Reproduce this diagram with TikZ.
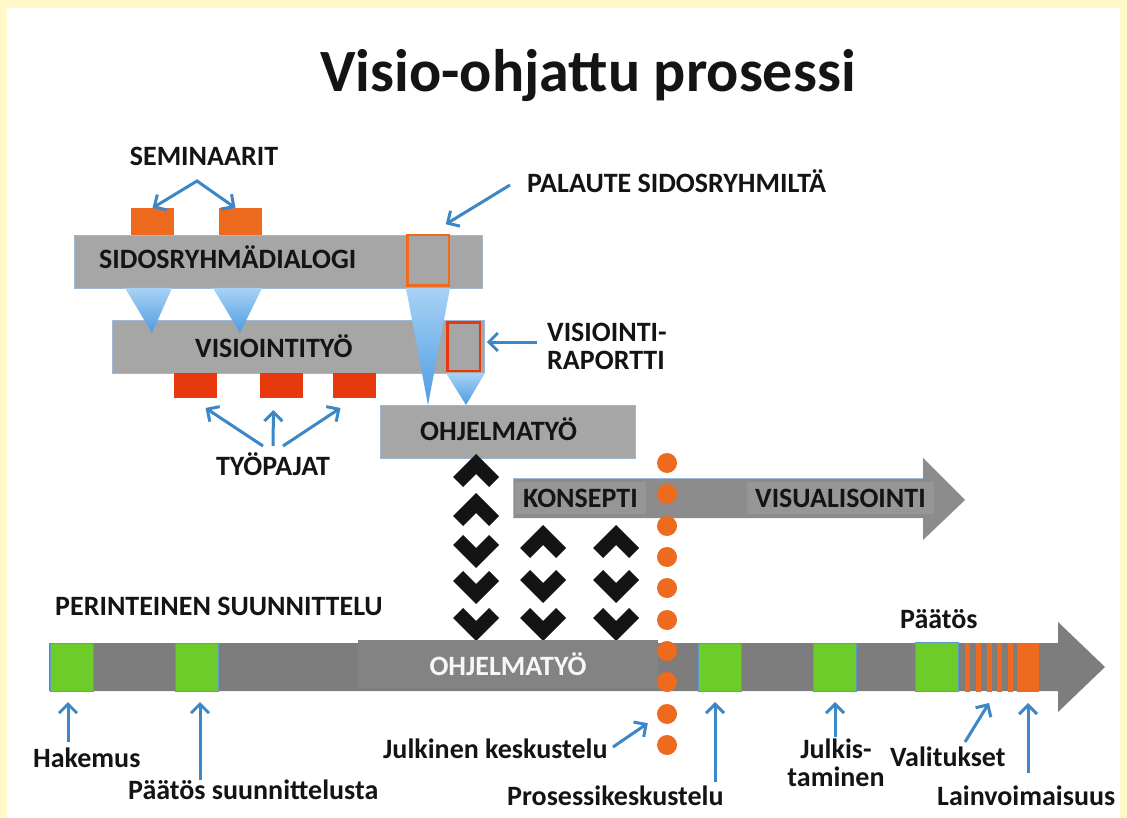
\documentclass[tikz,border=0pt]{standalone}
\usepackage{fontspec}
\setmainfont{Carlito}
\usetikzlibrary{arrows.meta}
\definecolor{bgyel}{HTML}{FFF8C9}
\definecolor{ink}{HTML}{141414}
\definecolor{barg}{HTML}{A6A6A6}
\definecolor{barb}{HTML}{9DB9D6}
\definecolor{kgray}{HTML}{8C8C8C}
\definecolor{kpatch}{HTML}{969696}
\definecolor{tgray}{HTML}{7D7D7D}
\definecolor{tpatch}{HTML}{838383}
\definecolor{grn}{HTML}{6DCB2A}
\definecolor{grnb}{HTML}{5A9BC8}
\definecolor{orng}{HTML}{EE6A1F}
\definecolor{rd}{HTML}{E8380D}
\definecolor{arrblue}{HTML}{3D87C6}
\definecolor{trilight}{HTML}{A8D2F4}
\definecolor{tridark}{HTML}{4D9CE3}

\begin{document}
\begin{tikzpicture}[x=1pt, y=-1pt, >={Straight Barb[length=9pt,width=18pt]}, bar/.style={fill=barg, draw=barb, line width=0.8pt, inner sep=0pt, outer sep=0pt, anchor=north west}, sq/.style={inner sep=0pt, outer sep=0pt, anchor=north west}, lbl/.style={font=\fontsize{28}{28}\selectfont\bfseries, text=ink, inner sep=0pt}, arr/.style={->, line width=3pt, arrblue}, tri/.style={top color=trilight, bottom color=tridark}, dot/.style={circle, fill=orng, minimum size=20pt, inner sep=0pt}, chevup/.pic={\fill[ink] (0,0) -- (23,23) -- (13,33) -- (0,20) -- (-13,33) -- (-23,23) -- cycle;}, chevdown/.pic={\fill[ink] (0,33) -- (23,10) -- (13,0) -- (0,13) -- (-13,0) -- (-23,10) -- cycle;}]
\useasboundingbox (0,0) rectangle (1127,818);
\fill[bgyel] (0,0) rectangle (1127,818); \fill[white] (7,8) rectangle (1120,818);
\node[font=\fontsize{60}{60}\selectfont\bfseries, text=ink, anchor=base, inner sep=0pt] (title) at (588,92) {Visio-ohjattu prosessi};
\node[sq, fill=orng, minimum width=43pt, minimum height=27pt] (sem1) at (131,208) {}; \node[sq, fill=orng, minimum width=43pt, minimum height=27pt] (sem2) at (219,208) {};
\node[bar, minimum width=408pt, minimum height=53pt] (sid) at (74,235) {}; \node[sq, draw=orng, line width=2.5pt, minimum width=41.5pt, minimum height=50.5pt] (pal) at (407.25,235.25) {};
\node[bar, minimum width=372pt, minimum height=53pt] (vis) at (112,320) {}; \node[sq, draw=rd, line width=2.5pt, minimum width=32.5pt, minimum height=48.5pt] (rap) at (447.25,322.25) {};
\node[sq, fill=rd, minimum width=43pt, minimum height=25pt] (ws1) at (174,373) {}; \node[sq, fill=rd, minimum width=43pt, minimum height=25pt] (ws2) at (260,373) {}; \node[sq, fill=rd, minimum width=43pt, minimum height=25pt] (ws3) at (333,373) {};
\node[bar, minimum width=255pt, minimum height=53pt] (ohj) at (380,405) {};
\shade[tri] (125,288) -- (172,288) -- (152,333) -- cycle; \shade[tri] (213,288) -- (262,288) -- (240,333) -- cycle; \shade[tri] (406,288) -- (450,288) -- (428,405) -- cycle; \shade[tri] (446,373) -- (485,373) -- (466,405) -- cycle;
\node[lbl, anchor=base] (semtxt) at (204,166) {SEMINAARIT}; \node[lbl, anchor=base west] (sidtxt) at (99,269) {SIDOSRYHMÄDIALOGI}; \node[lbl, anchor=base west] (vistxt) at (195,357) {VISIOINTITYÖ}; \node[lbl, anchor=base west] (ohjtxt) at (420,440) {OHJELMATYÖ};
\node[lbl, anchor=base] (typtxt) at (273,475) {TYÖPAJAT}; \node[lbl, anchor=base west] (paltxt) at (527,193) {PALAUTE SIDOSRYHMILTÄ}; \node[lbl, anchor=west, align=left] (raptxt) at (547,346) {VISIOINTI-\\RAPORTTI};
\coordinate (semtop) at (197,181); \coordinate (typtop) at (273,446); \coordinate (paltail) at (510,185); \coordinate (raptail) at (537,342);
\draw[arr, <->] (sem1.north) -- (semtop) -- ([xshift=-5pt]sem2.north); \draw[arr] ([xshift=-10pt]typtop) -- ([xshift=10pt,yshift=-10pt]ws1.south); \draw[arr] (typtop) -- ([xshift=-8pt,yshift=-12pt]ws2.south); \draw[arr] ([xshift=10pt]typtop) -- ([xshift=-14pt,yshift=-10pt]ws3.south);
\draw[arr] (paltail) -- ([xshift=-3pt,yshift=11pt]pal.north east); \draw[arr, shorten >=7pt] (raptail) -- (raptail -| rap.east);
\fill[kgray] (513,478) -- (923,478) -- (923,458) -- (965,500) -- (923,540) -- (923,518) -- (513,518) -- cycle; \draw[barb, line width=0.8pt] (513,518) -- (513,478) -- (923,478);
\node[lbl, fill=kpatch, inner xsep=8pt, inner ysep=7pt, anchor=base west] (kon) at (515,507) {KONSEPTI}; \node[lbl, fill=kpatch, inner xsep=8pt, inner ysep=7pt, anchor=base west] (visu) at (747,507) {VISUALISOINTI};
\pic at (476,454) {chevup}; \pic at (476,493) {chevup}; \pic at (476,535) {chevdown}; \pic at (476,571) {chevdown}; \pic at (476,608) {chevdown};
\pic at (543,525) {chevup}; \pic at (543,570) {chevdown}; \pic at (543,608) {chevdown}; \pic at (616,525) {chevup}; \pic at (616,570) {chevdown}; \pic at (616,608) {chevdown};
\fill[tgray] (49,643) -- (1058,643) -- (1058,622) -- (1105,667) -- (1058,712) -- (1058,691) -- (49,691) -- cycle;
\node[lbl, text=white!94!gray, fill=tpatch, minimum width=300pt, minimum height=48pt, anchor=base] (ohjt2) at (508,675) {OHJELMATYÖ};
\node[sq, fill=grn, draw=grnb, line width=0.8pt, minimum width=43pt, minimum height=48pt] (g1) at (50,643) {}; \node[sq, fill=grn, draw=grnb, line width=0.8pt, minimum width=43pt, minimum height=48pt] (g2) at (175,643) {}; \node[sq, fill=grn, draw=grnb, line width=0.8pt, minimum width=43pt, minimum height=48pt] (g3) at (698,643) {};
\node[sq, fill=grn, draw=grnb, line width=0.8pt, minimum width=43pt, minimum height=48pt] (g4) at (813,643) {}; \node[sq, fill=grn, draw=grnb, line width=0.8pt, minimum width=43pt, minimum height=49pt] (g5) at (915,642) {};
\fill[orng] (965,643) rectangle (970,692); \fill[orng] (976,643) rectangle (981,692); \fill[orng] (987,643) rectangle (992,692); \fill[orng] (997,643) rectangle (1002,692); \fill[orng] (1008,643) rectangle (1013,692);
\node[sq, fill=orng, minimum width=22pt, minimum height=49pt] (lv) at (1017,643) {}; \coordinate (stripes) at (989,692);
\node[dot] (d1) at (667,463) {}; \node[dot] (d2) at (667,494) {}; \node[dot] (d3) at (667,526) {}; \node[dot] (d4) at (667,557) {}; \node[dot] (d5) at (667,588) {}; \node[dot] (d6) at (667,620) {}; \node[dot] (d7) at (667,651) {}; \node[dot] (d8) at (667,682) {}; \node[dot] (d9) at (667,714) {}; \node[dot] (d10) at (667,745) {};
\node[lbl, anchor=base west] (perint) at (55,615) {PERINTEINEN SUUNNITTELU}; \node[lbl, anchor=base west] (paat2) at (900,628) {Päätös};
\node[lbl, anchor=base west] (hak) at (33,767) {Hakemus}; \node[lbl, anchor=base west] (paat1) at (128,799) {Päätös suunnittelusta}; \node[lbl, anchor=base west] (julk) at (383,758) {Julkinen keskustelu}; \node[lbl, anchor=base west] (pros) at (507,805) {Prosessikeskustelu};
\node[lbl, align=center] (julkis) at (836,763) {Julkis-\\taminen}; \node[lbl, anchor=base west] (val) at (890,766) {Valitukset}; \node[lbl, anchor=base west] (lain) at (937,805) {Lainvoimaisuus};
\coordinate (haktail) at (68,742); \coordinate (p1tail) at (200,780); \coordinate (jktail) at (613,747); \coordinate (prtail) at (715,782); \coordinate (jstail) at (835,737); \coordinate (vatail) at (965,742); \coordinate (lvtail) at (1028,773);
\draw[arr, shorten >=11pt] (haktail) -- (haktail |- g1.south); \draw[arr, shorten >=11pt] (p1tail) -- (p1tail |- g2.south); \draw[arr] (jktail) -- ([xshift=-12pt,yshift=-2pt]d9.south west); \draw[arr, shorten >=11pt] (prtail) -- (prtail |- g3.south);
\draw[arr, shorten >=11pt] (jstail) -- (jstail |- g4.south); \draw[arr] (vatail) -- ([yshift=-11pt]stripes); \draw[arr, shorten >=11pt] (lvtail) -- (lvtail |- lv.south);
\end{tikzpicture}
\end{document}
